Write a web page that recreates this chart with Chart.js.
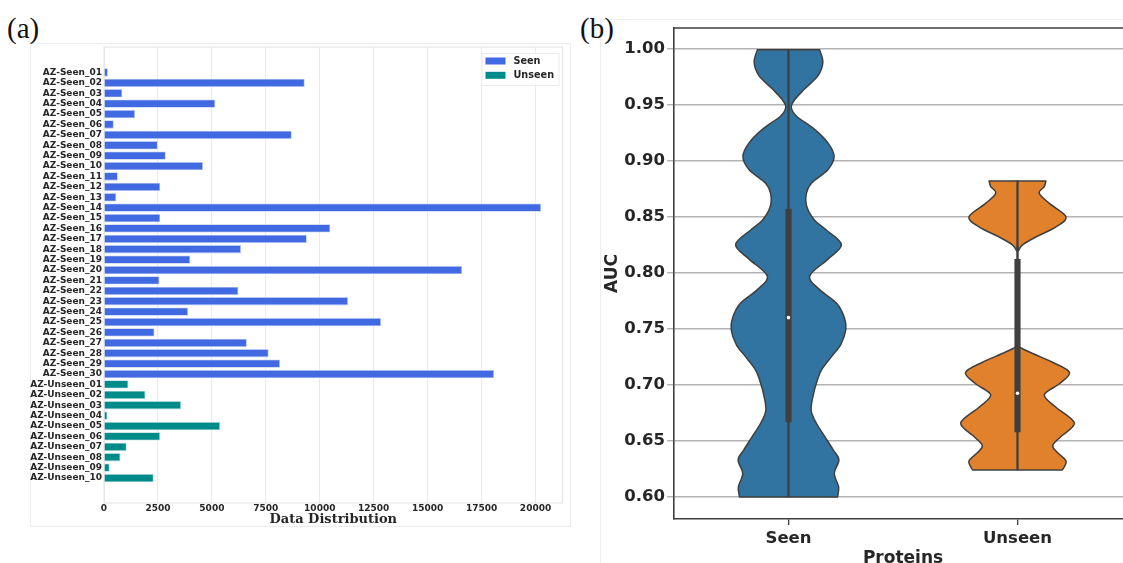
<!DOCTYPE html>
<html>
<head>
<meta charset="utf-8">
<script src="https://cdn.jsdelivr.net/npm/chart.js@4.4.0/dist/chart.umd.min.js"></script>
<style>
  html, body { margin: 0; padding: 0; background: #fff; overflow: hidden; }
  body { width: 1123px; height: 563px; position: relative; }
  .tag { position: absolute; font-family: 'Liberation Serif', serif; font-size: 29px; line-height: 1; color: #111; }
  .frame { position: absolute; border: 1px solid #ededed; }
  .box { position: absolute; }
</style>
</head>
<body>
<div class="frame" style="left:30px;top:43px;width:539px;height:482px"></div>
<div class="frame" style="left:600px;top:19px;width:600px;height:600px"></div>
<div class="tag" style="left:7px;top:14px">(a)</div>
<div class="tag" style="left:580px;top:14px">(b)</div>
<div class="box" style="left:0;top:0;width:580px;height:563px"><canvas id="bars"></canvas></div>
<div class="box" style="left:580px;top:0;width:560px;height:580px"><canvas id="violins"></canvas></div>
<script>
// (a) data
const proteinLabels = [
  'AZ-Seen_01', 'AZ-Seen_02', 'AZ-Seen_03', 'AZ-Seen_04', 'AZ-Seen_05', 'AZ-Seen_06', 'AZ-Seen_07', 'AZ-Seen_08',
  'AZ-Seen_09', 'AZ-Seen_10', 'AZ-Seen_11', 'AZ-Seen_12', 'AZ-Seen_13', 'AZ-Seen_14', 'AZ-Seen_15', 'AZ-Seen_16',
  'AZ-Seen_17', 'AZ-Seen_18', 'AZ-Seen_19', 'AZ-Seen_20', 'AZ-Seen_21', 'AZ-Seen_22', 'AZ-Seen_23', 'AZ-Seen_24',
  'AZ-Seen_25', 'AZ-Seen_26', 'AZ-Seen_27', 'AZ-Seen_28', 'AZ-Seen_29', 'AZ-Seen_30',
  'AZ-Unseen_01', 'AZ-Unseen_02', 'AZ-Unseen_03', 'AZ-Unseen_04', 'AZ-Unseen_05', 'AZ-Unseen_06', 'AZ-Unseen_07',
  'AZ-Unseen_08', 'AZ-Unseen_09', 'AZ-Unseen_10'
];
const seenCounts = [180, 9300, 850, 5160, 1440, 450, 8700, 2490, 2860, 4590, 640, 2610, 570, 20260, 2610,
  10490, 9400, 6350, 4000, 16600, 2570, 6230, 11310, 3900, 12840, 2340, 6620, 7630, 8160, 18080];
const unseenCounts = [1130, 1920, 3570, 160, 5380, 2600, 1050, 760, 260, 2300];
const countTicks = [0, 2500, 5000, 7500, 10000, 12500, 15000, 17500, 20000];

// (b) data
const groups = ['Seen', 'Unseen'];
const aucTicks = [0.60, 0.65, 0.70, 0.75, 0.80, 0.85, 0.90, 0.95, 1.00];
const seenAuc = [0.600, 0.609, 0.621, 0.633, 0.642, 0.654, 0.666, 0.677, 0.690, 0.701, 0.713, 0.725, 0.736, 0.749,
  0.760, 0.773, 0.785, 0.797, 0.812, 0.825, 0.838, 0.847, 0.859, 0.871, 0.880, 0.892, 0.904, 0.916, 0.928, 0.940,
  0.948, 0.955, 0.964, 0.976, 0.988, 0.999];
const seenWidth = [0.214, 0.219, 0.200, 0.220, 0.195, 0.158, 0.121, 0.099, 0.107, 0.121, 0.143, 0.187, 0.228, 0.250,
  0.244, 0.209, 0.136, 0.092, 0.171, 0.231, 0.166, 0.114, 0.080, 0.078, 0.100, 0.172, 0.199, 0.172, 0.114, 0.034,
  0.012, 0.029, 0.070, 0.129, 0.150, 0.136];
const unseenAuc = [0.624, 0.632, 0.640, 0.646, 0.654, 0.666, 0.680, 0.691, 0.701, 0.711, 0.720, 0.728, 0.734, 0.738,
  0.816, 0.820, 0.825, 0.832, 0.841, 0.850, 0.862, 0.871, 0.877, 0.882];
const unseenWidth = [0.196, 0.212, 0.172, 0.154, 0.190, 0.248, 0.168, 0.117, 0.183, 0.227, 0.155, 0.066, 0.008, 0.000,
  0.000, 0.005, 0.022, 0.080, 0.168, 0.212, 0.139, 0.095, 0.117, 0.124];
const whiskerLow = [0.600, 0.624];
const whiskerHigh = [0.999, 0.882];
const quartile1 = [0.667, 0.658];
const quartile3 = [0.857, 0.812];
const medians = [0.760, 0.6925];

Chart.defaults.font.family = "'DejaVu Sans', sans-serif";
Chart.defaults.font.weight = 'bold';
Chart.defaults.color = '#262626';
Chart.defaults.animation = false;
Chart.defaults.plugins.legend.display = false;
Chart.defaults.plugins.tooltip.enabled = false;

// light frame + legend box inside the plot
const barFrame = {
  id: 'barFrame',
  beforeDatasetsDraw(chart) {
    const {ctx, chartArea: a} = chart;
    ctx.save();
    ctx.strokeStyle = '#e3e3e3';
    ctx.lineWidth = 1;
    ctx.strokeRect(a.left, a.top, a.right - a.left, a.bottom - a.top);
    ctx.restore();
  },
  afterDraw(chart) {
    const {ctx, chartArea: a} = chart;
    const bx = a.right - 81, by = a.top + 6;
    ctx.save();
    ctx.fillStyle = 'rgba(255,255,255,0.85)';
    ctx.strokeStyle = '#ececec';
    ctx.fillRect(bx, by, 77, 32);
    ctx.strokeRect(bx + 0.5, by + 0.5, 77, 32);
    ctx.font = "bold 9.7px 'DejaVu Sans'";
    ctx.textBaseline = 'middle';
    chart.data.datasets.forEach((ds, i) => {
      const y = by + 8 + i * 14.3;
      ctx.fillStyle = ds.backgroundColor;
      ctx.fillRect(bx + 4, y - 3.5, 20, 7);
      ctx.fillStyle = '#262626';
      ctx.fillText(ds.label, bx + 32, y);
    });
    ctx.restore();
  }
};

new Chart(document.getElementById('bars'), {
  type: 'bar',
  data: {
    datasets: [
      {
        label: 'Seen',
        data: seenCounts.map((v, i) => ({x: v, y: i})),
        backgroundColor: '#4169E1',
        borderColor: '#b9c7f3',
        borderWidth: 0.8
      },
      {
        label: 'Unseen',
        data: unseenCounts.map((v, i) => ({x: v, y: seenCounts.length + i})),
        backgroundColor: '#008B8B',
        borderColor: '#a9d6d6',
        borderWidth: 0.8
      }
    ]
  },
  options: {
    indexAxis: 'y',
    responsive: true,
    maintainAspectRatio: false,
    layout: {padding: {top: 47, right: 17.5, left: 0, bottom: 0}},
    datasets: {bar: {grouped: false, categoryPercentage: 1, barPercentage: 0.8}},
    scales: {
      x: {
        type: 'linear',
        min: 0,
        max: 21250,
        offset: false,
        afterBuildTicks: s => { s.ticks = countTicks.map(v => ({value: v})); },
        afterFit: s => { s.height = 60; },
        ticks: {padding: 0, font: {size: 9}, callback: v => String(v)},
        grid: {color: '#ebebeb', drawTicks: false, offset: false},
        border: {display: false},
        title: {
          display: true,
          text: 'Data Distribution',
          color: '#262626',
          font: {family: "'DejaVu Serif', serif", size: 13, weight: 'bold'},
          padding: {top: 0, bottom: 36}
        }
      },
      y: {
        type: 'linear',
        reverse: true,
        min: -2.45,
        max: 41.4,
        offset: false,
        afterBuildTicks: s => { s.ticks = proteinLabels.map((_, i) => ({value: i})); },
        afterFit: s => { s.width = 104; },
        ticks: {autoSkip: false, padding: 2, font: {size: 9}, callback: v => proteinLabels[v]},
        grid: {display: false, drawTicks: false, tickLength: 0, offset: false},
        border: {display: false}
      }
    }
  },
  plugins: [barFrame]
});

// violins drawn through the chart scales
function splineTo(ctx, pts) {
  for (let i = 0; i < pts.length - 1; i++) {
    const p0 = pts[Math.max(i - 1, 0)], p1 = pts[i], p2 = pts[i + 1], p3 = pts[Math.min(i + 2, pts.length - 1)];
    ctx.bezierCurveTo(p1.x + (p2.x - p0.x) / 6, p1.y + (p2.y - p0.y) / 6,
      p2.x - (p3.x - p1.x) / 6, p2.y - (p3.y - p1.y) / 6, p2.x, p2.y);
  }
}

const violinShapes = [
  {auc: seenAuc, width: seenWidth, color: '#3274A1'},
  {auc: unseenAuc, width: unseenWidth, color: '#E1812C'}
];

const violinPlugin = {
  id: 'violins',
  beforeDatasetsDraw(chart) {
    const {ctx, scales: {x, y}} = chart;
    ctx.save();
    violinShapes.forEach((v, g) => {
      const left = v.auc.map((a, i) => ({x: x.getPixelForValue(g - v.width[i]), y: y.getPixelForValue(a)}));
      const right = v.auc.map((a, i) => ({x: x.getPixelForValue(g + v.width[i]), y: y.getPixelForValue(a)})).reverse();
      ctx.beginPath();
      ctx.moveTo(left[0].x, left[0].y);
      splineTo(ctx, left);
      ctx.lineTo(right[0].x, right[0].y);
      splineTo(ctx, right);
      ctx.closePath();
      ctx.fillStyle = v.color;
      ctx.fill();
      ctx.lineWidth = 1.5;
      ctx.lineJoin = 'round';
      ctx.strokeStyle = '#3f3f3f';
      ctx.stroke();
    });
    ctx.restore();
  },
  afterDraw(chart) {
    const {ctx, chartArea: a} = chart;
    ctx.save();
    ctx.strokeStyle = '#3f3f3f';
    ctx.lineWidth = 1.6;
    ctx.beginPath();
    ctx.moveTo(a.left, a.top);
    ctx.lineTo(a.right, a.top);
    ctx.stroke();
    ctx.restore();
  }
};

new Chart(document.getElementById('violins'), {
  type: 'bar',
  data: {
    datasets: [
      {
        type: 'scatter',
        data: groups.map((g, i) => ({x: i, y: medians[i]})),
        pointRadius: 1.8,
        pointBackgroundColor: '#ffffff',
        pointBorderWidth: 0
      },
      {
        data: groups.map((g, i) => ({x: i, y: [quartile1[i], quartile3[i]]})),
        backgroundColor: '#3f3f3f',
        barThickness: 5.5,
        grouped: false
      },
      {
        data: groups.map((g, i) => ({x: i, y: [whiskerLow[i], whiskerHigh[i]]})),
        backgroundColor: '#3f3f3f',
        barThickness: 1.6,
        grouped: false
      }
    ]
  },
  options: {
    responsive: true,
    maintainAspectRatio: false,
    layout: {padding: {top: 28, right: 8, left: 0, bottom: 0}},
    scales: {
      x: {
        type: 'linear',
        min: -0.5,
        max: 1.5,
        offset: false,
        afterBuildTicks: s => { s.ticks = groups.map((_, i) => ({value: i})); },
        afterFit: s => { s.height = 61; },
        ticks: {padding: 3.5, font: {size: 16.5}, callback: v => groups[v]},
        grid: {drawOnChartArea: false, drawTicks: true, tickLength: 6, color: '#3f3f3f', lineWidth: 1.3, offset: false},
        border: {display: true, color: '#3f3f3f', width: 1.6},
        title: {display: true, text: 'Proteins', color: '#262626', font: {size: 17}, padding: {top: 0, bottom: 11}}
      },
      y: {
        type: 'linear',
        min: 0.5803,
        max: 1.0185,
        afterBuildTicks: s => { s.ticks = aucTicks.map(v => ({value: v})); },
        afterFit: s => { s.width = 94; },
        ticks: {padding: 2, font: {size: 16.5}, callback: v => v.toFixed(2)},
        grid: {color: '#b3b3b3', lineWidth: 1.4, tickLength: 7},
        border: {display: true, color: '#3f3f3f', width: 1.6},
        title: {display: true, text: 'AUC', color: '#262626', font: {size: 17}, padding: {top: 22, bottom: 0}}
      }
    }
  },
  plugins: [violinPlugin]
});
</script>
</body>
</html>
